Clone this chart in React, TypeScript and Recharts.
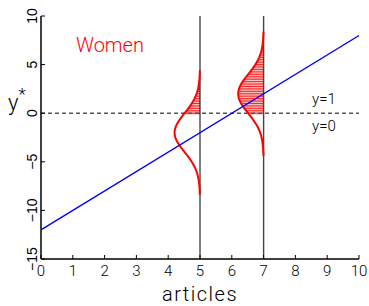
import React from 'react';
import { ComposedChart, Line, XAxis, YAxis, ReferenceLine, Label } from 'recharts';

const xTicks = [0, 1, 2, 3, 4, 5, 6, 7, 8, 9, 10];
const yTicks = [-15, -10, -5, 0, 5, 10];
const yTickLabels = ['−15', '−10', '−5', '0', '5', '10'];
const latentLine = [
  { x: 0, y: -12 },
  { x: 10, y: 8 },
];
const articleValues = [5, 7];
const latentMeans = [-2, 2];
// half-profile of the drawn density (offset from mean in y units, width in x units)
const densityOffsets = [0, 0.25, 0.5, 0.75, 1, 1.25, 1.5, 1.75, 2, 2.25, 2.5, 2.75, 3, 3.25, 3.5, 3.75, 4, 4.25, 4.5, 4.75, 5, 5.25, 5.5, 5.75, 6, 6.25, 6.4];
const densityWidths = [0.8, 0.794, 0.775, 0.746, 0.706, 0.658, 0.604, 0.546, 0.485, 0.425, 0.366, 0.311, 0.26, 0.214, 0.173, 0.138, 0.108, 0.084, 0.064, 0.048, 0.035, 0.026, 0.018, 0.013, 0.009, 0.006, 0.005];

const FONT = 'Roboto, "Liberation Sans", Arial, sans-serif';
const TICKFONT = '"Liberation Sans", Arial, sans-serif';
const WEIGHT = 300;

type Pt = { x: number; y: number };

function profile(): { d: number; w: number }[] {
  const out: { d: number; w: number }[] = [];
  for (let i = densityOffsets.length - 1; i > 0; i--) out.push({ d: -densityOffsets[i], w: densityWidths[i] });
  for (let i = 0; i < densityOffsets.length; i++) out.push({ d: densityOffsets[i], w: densityWidths[i] });
  return out;
}

const curves: Pt[][] = articleValues.map((a, k) =>
  profile().map((p) => ({ x: a - p.w, y: latentMeans[k] + p.d }))
);

const hatches: { key: string; data: Pt[] }[] = [];
articleValues.forEach((a, k) => {
  profile().forEach((p, j) => {
    const y = latentMeans[k] + p.d;
    if (y >= -1e-9) {
      hatches.push({ key: `h${k}-${j}`, data: [{ x: a - p.w, y }, { x: a, y }] });
    }
  });
});

const XTick = (props: any) => {
  const { x, y, payload } = props;
  return (
    <g>
      <line x1={x} x2={x} y1={y} y2={y - 4} stroke="#000" strokeWidth={1} />
      <text x={x} y={y + 17} textAnchor="middle" fontSize={15} fontWeight={WEIGHT} fontFamily={FONT} fill="#000">
        {String(payload.value)}
      </text>
    </g>
  );
};

const YTick = (props: any) => {
  const { x, y, payload } = props;
  const idx = yTicks.indexOf(payload.value);
  const label = idx >= 0 ? yTickLabels[idx] : String(payload.value);
  return (
    <g>
      <line x1={x} x2={x + 4} y1={y} y2={y} stroke="#000" strokeWidth={1} />
      <text
        x={0}
        y={0}
        transform={`translate(${x - 4.5}, ${y}) rotate(-90)`}
        textAnchor="middle"
        fontSize={14}
        fontFamily={TICKFONT}
        fill="#000"
      >
        {label}
      </text>
    </g>
  );
};

export default function App() {
  return (
    <div style={{ position: 'absolute', left: 0, top: 0, width: 369, height: 306, background: '#fff' }}>
      <ComposedChart width={369} height={306} margin={{ top: 16, right: 10, bottom: 0, left: 0 }}>
        <XAxis
          type="number"
          dataKey="x"
          domain={[0, 10]}
          ticks={xTicks}
          interval={0}
          height={47}
          tickSize={0}
          tickMargin={0}
          tickLine={false}
          allowDataOverflow
          axisLine={{ stroke: '#000', strokeWidth: 1.5 }}
          tick={<XTick />}
        >
          <Label
            content={(p: any) => {
              const vb = p.viewBox || {};
              return (
                <text
                  x={vb.x + vb.width / 2}
                  y={vb.y + 42}
                  textAnchor="middle"
                  fontSize={20}
                  fontWeight={WEIGHT}
                  letterSpacing={1.5}
                  fontFamily={FONT}
                  fill="#000"
                >
                  articles
                </text>
              );
            }}
          />
        </XAxis>
        <YAxis
          type="number"
          domain={[-15, 10]}
          ticks={yTicks}
          interval={0}
          width={41}
          tickSize={0}
          tickMargin={0}
          tickLine={false}
          allowDataOverflow
          axisLine={{ stroke: '#000', strokeWidth: 1.5 }}
          tick={<YTick />}
        >
          <Label
            content={() => (
              <text x={8} y={110} fontSize={22} fontWeight={WEIGHT} fontFamily={FONT} fill="#000">
                y
                <tspan dy={-10} fontSize={17}>*</tspan>
              </text>
            )}
          />
        </YAxis>

        {hatches.map((h) => (
          <Line
            key={h.key + 'p'}
            data={h.data}
            dataKey="y"
            stroke="#f8b0b0"
            strokeWidth={2.6}
            dot={false}
            isAnimationActive={false}
            legendType="none"
          />
        ))}
        {hatches.map((h) => (
          <Line
            key={h.key}
            data={h.data}
            dataKey="y"
            stroke="#ff0000"
            strokeWidth={0.8}
            dot={false}
            isAnimationActive={false}
            legendType="none"
          />
        ))}

        <ReferenceLine
          y={0}
          stroke="#555"
          strokeWidth={1.5}
          strokeDasharray="4 3"
          label={(p: any) => {
            const vb = p.viewBox || {};
            const right = vb.x + vb.width;
            return (
              <g>
                <text x={right - 47} y={vb.y - 9} fontSize={15} fontWeight={WEIGHT} fontFamily={FONT} fill="#000">
                  y=1
                </text>
                <text x={right - 47} y={vb.y + 18} fontSize={15} fontWeight={WEIGHT} fontFamily={FONT} fill="#000">
                  y=0
                </text>
              </g>
            );
          }}
        />
        <ReferenceLine x={articleValues[0]} stroke="#000" strokeWidth={1} />
        <ReferenceLine x={articleValues[1]} stroke="#444" strokeWidth={1.4} />

        {curves.map((c, i) => (
          <Line
            key={'c' + i}
            data={c}
            dataKey="y"
            type="linear"
            stroke="#ff0000"
            strokeWidth={2}
            dot={false}
            isAnimationActive={false}
          />
        ))}

        <Line
          data={latentLine}
          dataKey="y"
          type="linear"
          stroke="#0000ff"
          strokeWidth={1.3}
          dot={false}
          isAnimationActive={false}
        />

        <ReferenceLine
          x={0}
          stroke="none"
          label={(p: any) => {
            const vb = p.viewBox || {};
            return (
              <text x={vb.x + 69} y={52} fontSize={20} fontWeight={WEIGHT} fontFamily={FONT} fill="#ff0000" textAnchor="middle">
                Women
              </text>
            );
          }}
        />
      </ComposedChart>
    </div>
  );
}
